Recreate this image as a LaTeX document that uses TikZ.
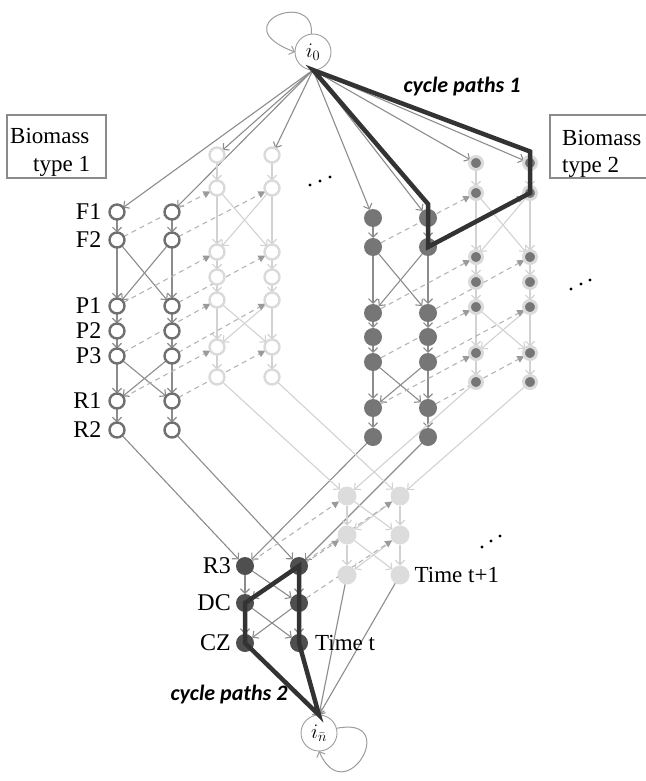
\documentclass[tikz,border=0pt]{standalone}
\usepackage{fontspec}
\setmainfont{Liberation Serif}
\newfontfamily\cyclefont{Carlito}
\usetikzlibrary{arrows.meta}
\pgfdeclarelayer{links}
\pgfsetlayers{links,main}

\definecolor{ringdark}{HTML}{707070}
\definecolor{ringlight}{HTML}{DADADA}
\definecolor{fillmid}{HTML}{767676}
\definecolor{filldark}{HTML}{4F4F4F}
\definecolor{filllight}{HTML}{DCDCDC}
\definecolor{linemid}{HTML}{8C8C8C}
\definecolor{linelight}{HTML}{D2D2D2}
\definecolor{dashgray}{HTML}{B4B4B4}
\definecolor{tipgray}{HTML}{9A9A9A}
\definecolor{pathdark}{HTML}{333333}
\definecolor{boxgray}{HTML}{8A8A8A}
\definecolor{depotgray}{HTML}{9C9C9C}

\tikzset{
  base/.style={circle, inner sep=0pt, outer sep=0pt},
  openDark/.style={base, draw=ringdark, line width=2.4pt, fill=white, minimum size=15pt},
  openLight/.style={base, draw=ringlight, line width=2.4pt, fill=white, minimum size=15pt},
  fullMid/.style={base, fill=fillmid, minimum size=18pt},
  haloMid/.style={base, fill=fillmid, draw=ringlight, line width=3pt, minimum size=13pt},
  fullDark/.style={base, fill=filldark, minimum size=18pt},
  fullLight/.style={base, fill=filllight, minimum size=19pt},
  depot/.style={base, draw=depotgray, line width=0.9pt, fill=white, minimum size=36pt,
    font=\fontsize{21}{24}\selectfont},
  barb/.style={-{Straight Barb[length=4.5pt,width=9pt]}},
  linkMid/.style={barb, draw=linemid, line width=1.1pt},
  linkLight/.style={barb, draw=linelight, line width=1.1pt},
  linkLoop/.style={barb, draw=depotgray, line width=1pt},
  linkDash/.style={-{Triangle[length=7pt,width=7pt,color=tipgray]}, draw=dashgray,
    dash pattern=on 5pt off 4pt, line width=1.1pt},
  cyclepath/.style={draw=pathdark, line width=4.5pt},
  cyclelabel/.style={font=\cyclefont\bfseries\itshape\fontsize{22}{24}\selectfont, inner sep=0pt},
  rowlabel/.style={anchor=east, font=\fontsize{24}{26}\selectfont, inner sep=0pt},
  steplabel/.style={anchor=west, font=\fontsize{23}{26}\selectfont, inner sep=0pt},
  boxline/.style={draw=boxgray, line width=1.2pt},
  boxtext/.style={anchor=base west, font=\fontsize{23}{26}\selectfont, inner sep=0pt},
}

% two columns of nodes: prefix, style, x of column a, x of column b, rows
\newcommand\placeblock[5]{%
  \foreach \r/\yy in {#5} {%
    \node[#2] (#1a-\r) at (#3,\yy) {};
    \node[#2] (#1b-\r) at (#4,\yy) {};
  }}

% arcs inside a harvesting/processing block
\newcommand\blocklinks[2]{%
  \foreach \c in {a,b} {%
    \draw[#2] (#1\c-F1) -- (#1\c-F2);
    \draw[#2] (#1\c-P1) -- (#1\c-P2);
    \draw[#2] (#1\c-P2) -- (#1\c-P3);
    \draw[#2] (#1\c-R1) -- (#1\c-R2);
    \foreach \d in {a,b} {%
      \draw[#2] (#1\c-F2) -- (#1\d-P1);
      \draw[#2] (#1\c-P3) -- (#1\d-R1);
    }%
  }}

% arcs inside a refinery/distribution block
\newcommand\lowlinks[2]{%
  \foreach \c in {a,b} {%
    \foreach \d in {a,b} {%
      \draw[#2] (#1\c-R3) -- (#1\d-DC);
      \draw[#2] (#1\c-DC) -- (#1\d-CZ);
    }%
  }}

% inventory arcs into the next period
\newcommand\nextperiod[3]{%
  \foreach \c in {a,b} {%
    \foreach \r in {#3} {%
      \draw[linkDash] (#1\c-\r) -- (#2\c-\r);
    }%
  }}

\begin{document}
\begin{tikzpicture}[x=1pt,y=-1pt]
\useasboundingbox (0,0) rectangle (645,781);

% source and sink
\node[depot] (i0) at (313,52) {$i_0$};
\node[depot] (in) at (319,733) {$i_{\bar n}$};

% biomass type 1, periods t and t+1
\placeblock{S}{openDark}{117}{172}{F1/212,F2/240,P1/306,P2/331,P3/356,R1/401,R2/430}
\placeblock{T}{openLight}{217}{272}{F1/155,F2/188,P1/252,P2/277,P3/300,R1/347,R2/377}
% biomass type 2, periods t and t+1
\placeblock{U}{fullMid}{373}{428}{F1/218,F2/247,P1/313,P2/337,P3/362,R1/408,R2/437}
\placeblock{V}{haloMid}{476}{530}{F1/163,F2/193,P1/257,P2/282,P3/307,R1/353,R2/382}
% refineries, distribution centres, customer zones
\placeblock{C}{fullDark}{245}{299}{R3/566,DC/603,CZ/643}
\placeblock{D}{fullLight}{347}{400}{R3/496,DC/535,CZ/575}

\begin{pgfonlayer}{links}
  \foreach \n in {Sa-F1,Sb-F1,Ta-F1,Tb-F1,Ua-F1,Ub-F1,Va-F1,Vb-F1}
    \draw[linkMid] (i0.south) -- (\n);
  \blocklinks{S}{linkMid}
  \blocklinks{T}{linkLight}
  \blocklinks{U}{linkMid}
  \blocklinks{V}{linkLight}
  \nextperiod{S}{T}{F2,P1,P3,R1}
  \nextperiod{U}{V}{F2,P1,P3,R1}
  \foreach \c in {a,b} {%
    \draw[linkMid] (S\c-R2) -- (C\c-R3);
    \draw[linkMid] (U\c-R2) -- (C\c-R3);
    \draw[linkLight] (T\c-R2) -- (D\c-R3);
    \draw[linkLight] (V\c-R2) -- (D\c-R3);
  }
  \lowlinks{C}{linkMid}
  \lowlinks{D}{linkLight}
  \nextperiod{C}{D}{R3,DC}
  \foreach \c in {a,b} {%
    \draw[linkMid] (C\c-CZ) -- (in.north);
    \draw[linkMid] (D\c-CZ) -- (in.north);
  }
  \draw[linkLoop] (i0.95) .. controls (315,-12) and (222,25) .. (i0.west);
  \draw[linkLoop] (in.15) .. controls (402,715) and (345,812) .. (in.south);
\end{pgfonlayer}

% highlighted cycles
\draw[cyclepath] (i0.south) -- ([yshift=5pt]Vb-F1.north) -- (Vb-F2.center)
  -- (Ub-F2.center) -- ([yshift=5pt]Ub-F1.north) -- cycle;
\draw[cyclepath] (in.north) -- (Ca-CZ.center) -- (Ca-DC.center)
  -- (Cb-R3.center) -- (Cb-CZ.center) -- cycle;

\node[cyclelabel] (cp1) at (462,87) {cycle paths 1};
\node[cyclelabel] (cp2) at (229,695) {cycle paths 2};

% row labels
\foreach \r in {F1,F2,P1,P2,P3,R1,R2}
  \node[rowlabel] (lab-\r) at ([xshift=-8pt]Sa-\r.west) {\r};
\foreach \r in {R3,DC,CZ}
  \node[rowlabel] (lab-\r) at ([xshift=-5pt]Ca-\r.west) {\r};
\node[steplabel] (time-t) at ([xshift=7pt]Cb-CZ.east) {Time t};
\node[steplabel] (time-t1) at ([xshift=5pt]Db-CZ.east) {Time t+1};

% biomass type boxes
\draw[boxline] (7,115) rectangle (106,178);
\node[boxtext] (bio1a) at (10,143) {Biomass};
\node[boxtext] (bio1b) at (33,171) {type 1};
\draw[boxline] (550,115) rectangle (660,178);
\node[boxtext] (bio2a) at (562,145) {Biomass};
\node[boxtext] (bio2b) at (562,172) {type 2};

% continuation dots
\foreach \p in {(310,185),(320,181),(330,177),(571,289),(581,284),(590,280),(482,547),(491,541),(500,536)}
  \fill \p circle (1.6pt);
\end{tikzpicture}
\end{document}
